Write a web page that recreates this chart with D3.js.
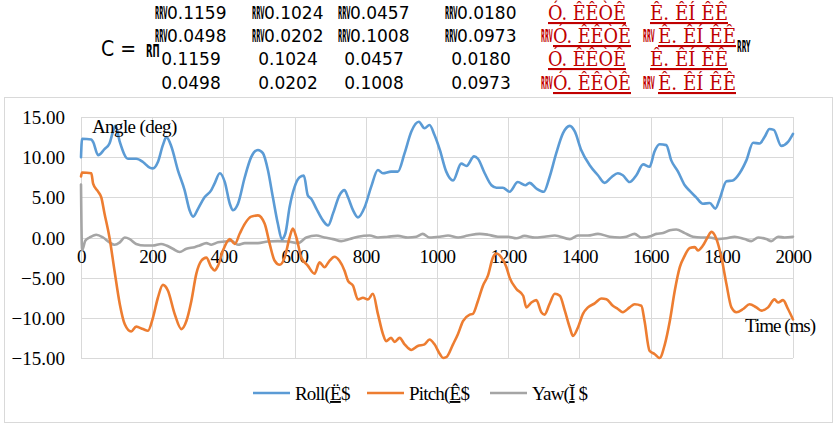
<!DOCTYPE html>
<html><head><meta charset="utf-8">
<script src="https://cdn.jsdelivr.net/npm/d3@7"></script>
<style>body{margin:0;background:#fff}svg{display:block}</style>
</head><body>
<svg id="c" width="840" height="430"></svg>
<script>
// ---- data ----
const xTicks = [0,200,400,600,800,1000,1200,1400,1600,1800,2000];
const yTicks = [15,10,5,0,-5,-10,-15];
const seriesNames = ["Roll", "Pitch", "Yaw"];
const legendTails = [["Ë","$"],["Ê","$"],["Ĭ"," $"]];

const rollTime = [0,3,29,34,48,66,80,90,97,109,132,155,174,193,202,216,230,240,254,272,291,305,315,329,347,366,375,390,404,418,427,441,460,478,497,511,525,539,553,564,574,586,600,614,626,637,647,661,680,694,708,726,740,750,764,778,797,815,834,848,871,890,909,928,949,965,979,993,1008,1026,1045,1068,1083,1104,1115,1134,1153,1167,1185,1204,1227,1248,1260,1279,1300,1316,1335,1354,1373,1387,1405,1429,1452,1471,1490,1508,1522,1541,1560,1579,1597,1611,1625,1644,1658,1677,1696,1710,1728,1747,1766,1782,1794,1813,1831,1850,1869,1888,1906,1920,1934,1946,1967,1986,2000];
const rollValues = [10.0,12.3,12.2,11.9,10.25,11.0,11.7,13.2,13.9,11.9,9.8,9.8,9.4,8.7,8.6,9.4,11.5,12.5,11.3,8.4,5.9,3.4,2.6,3.6,5.0,5.9,6.7,8.0,6.9,4.2,3.4,4.2,7.5,10.0,10.9,10.5,8.4,5.0,1.7,-0.2,0.5,3.8,6.3,7.5,7.7,5.25,4.8,3.6,2.1,1.5,3.0,5.25,5.9,5.0,3.4,2.5,3.8,6.3,8.4,8.0,8.2,8.2,10.5,13.2,14.4,13.6,14.0,12.75,10.9,8.2,7.1,9.2,8.9,10.1,9.8,8.0,6.5,6.2,6.2,5.7,6.9,6.5,6.8,6.1,5.7,7.5,10.5,13.0,13.9,13.2,10.9,9.0,7.75,6.8,7.5,8.0,7.75,6.9,7.75,9.1,8.8,10.7,11.6,11.5,9.6,8.2,6.5,5.8,5.0,4.2,4.3,3.6,4.8,7.0,7.1,8.0,9.6,11.8,11.7,12.5,13.5,13.4,11.4,11.9,12.9];

const pitchTime = [0,3,29,34,48,57,66,80,94,109,123,141,155,174,188,202,216,230,244,263,282,296,310,324,338,352,366,375,385,399,418,432,446,460,478,497,516,530,544,558,572,586,595,605,619,637,656,670,684,698,712,726,740,750,764,778,792,806,820,834,848,857,871,881,895,909,928,946,965,979,993,1008,1017,1026,1045,1059,1073,1092,1101,1115,1129,1143,1157,1167,1181,1195,1204,1223,1242,1251,1265,1279,1293,1302,1316,1331,1345,1359,1373,1382,1396,1410,1424,1443,1462,1476,1494,1508,1522,1541,1555,1574,1583,1597,1611,1625,1640,1654,1668,1682,1696,1710,1724,1733,1747,1761,1771,1785,1799,1813,1827,1841,1860,1878,1897,1911,1930,1948,1958,1972,1986,2000];
const pitchValues = [7.6,8.1,8.0,6.7,5.7,5.0,3.0,0.0,-4.1,-8.3,-10.8,-11.7,-11.1,-11.4,-11.6,-10.0,-7.5,-5.9,-6.6,-9.5,-11.4,-10.4,-7.9,-4.5,-2.9,-2.5,-3.7,-4.1,-3.5,-1.6,-0.2,-0.8,0.5,1.7,2.6,2.75,1.7,-0.8,-2.9,-3.4,-2.5,0.0,1.1,0.0,-2.5,-3.5,-4.5,-3.1,-3.7,-2.9,-2.4,-2.9,-4.1,-5.4,-6.0,-7.7,-7.5,-7.7,-7.0,-9.5,-12.0,-12.9,-12.5,-13.0,-12.5,-13.3,-14.0,-13.5,-13.3,-12.7,-13.3,-14.5,-15.0,-14.9,-13.3,-12.0,-10.4,-9.6,-9.5,-7.9,-6.0,-4.75,-2.5,-2.0,-2.5,-3.7,-5.0,-6.4,-7.25,-8.7,-8.1,-7.8,-9.3,-9.6,-8.3,-7.0,-7.25,-9.1,-11.2,-12.25,-11.2,-9.5,-8.7,-8.2,-7.6,-7.7,-8.5,-8.9,-9.3,-8.7,-8.3,-8.5,-10.4,-14.1,-14.5,-15.0,-13.3,-10.4,-6.6,-3.7,-2.25,-1.3,-1.2,-1.6,-1.0,0.1,0.7,-0.2,-2.5,-5.8,-8.7,-9.3,-8.9,-8.3,-8.7,-9.1,-8.7,-7.7,-8.1,-7.8,-8.9,-10.2];

const yawTime = [0,3,12,24,43,62,80,94,109,123,137,155,179,202,225,240,258,277,296,319,333,352,366,385,404,422,441,460,478,497,525,553,581,609,633,661,684,708,731,755,778,811,834,862,890,918,942,960,979,1008,1031,1059,1087,1120,1143,1171,1199,1223,1246,1274,1302,1331,1373,1396,1424,1452,1485,1514,1532,1555,1574,1602,1616,1635,1654,1672,1696,1719,1742,1766,1789,1813,1836,1864,1883,1902,1925,1939,1958,1976,2000];
const yawValues = [6.6,-1.6,-0.4,0.0,0.35,0.0,-0.6,-0.9,-0.6,0.0,-0.2,-0.8,-1.0,-1.0,-0.8,-1.0,-1.4,-1.8,-1.4,-1.2,-1.0,-0.7,-0.9,-0.6,-0.5,-0.4,-0.9,-0.7,-0.7,-0.7,-0.5,-0.45,-0.5,-0.7,0.0,0.25,0.0,-0.2,-0.45,-0.2,0.1,0.25,0.0,0.1,0.2,0.0,0.1,0.45,0.0,0.1,0.25,0.0,0.25,0.45,0.35,0.1,0.1,-0.1,0.2,0.0,0.1,0.25,-0.2,0.25,0.25,0.45,0.1,0.0,0.1,0.45,0.0,0.2,0.45,0.55,0.9,1.0,0.55,0.1,0.0,0.0,-0.2,-0.1,0.1,-0.2,-0.45,0.0,-0.2,-0.45,0.1,0.0,0.1];

const matrixBlack = [
  ["RRV0.1159","RRV0.1024","RRV0.0457","RRV0.0180"],
  ["RRV0.0498","RRV0.0202","RRV0.1008","RRV0.0973"],
  ["0.1159","0.1024","0.0457","0.0180"],
  ["0.0498","0.0202","0.1008","0.0973"]
];
const matrixRed = [
  ["","Ó. ÊÊÒÊ","","Ê. ÊÍ ÊÊ"],
  ["RRV","Ó. ÊÊÒÊ","RRV","Ê. ÊÍ ÊÊ"],
  ["","Ó. ÊÊÒÊ","","Ê. ÊÍ ÊÊ"],
  ["RRV","Ó. ÊÊÒÊ","RRV","Ê. ÊÍ ÊÊ"]
];

// ---- drawing ----
const svg = d3.select("#c");
const colors = ["#5b9bd5","#ed7d31","#a5a5a5"];
const serif = "'Liberation Serif', 'Times New Roman', serif";
const sans = "'DejaVu Sans',sans-serif";

// squeezed glyph helper (text scaled horizontally)
function squeezed(g, txt, x0, y0, sx, size, fill) {
  g.append("text").attr("transform",`translate(${x0},${y0}) scale(${sx},1)`)
    .style("font-family",sans).attr("font-size",size).attr("font-weight","bold").attr("fill",fill).text(txt);
}

// matrix header
const mat = svg.append("g");
mat.append("text").attr("x",101).attr("y",56).style("font-family","'DejaVu Sans Condensed','DejaVu Sans',sans-serif")
  .attr("font-size",21).attr("fill","#000").text("C =");
squeezed(mat, "RΠ", 146, 57, 0.5, 17, "#000");
const colX = [191,288,374,481];
const rowY = [19,42,65,89];
matrixBlack.forEach((row,ri)=>{
  row.forEach((s,ci)=>{
    if (s.startsWith("RRV")) {
      squeezed(mat, "RRV", colX[ci]-36, rowY[ri], 0.32, 17, "#000");
      mat.append("text").attr("x",colX[ci]-24).attr("y",rowY[ri])
        .style("font-family",sans).attr("font-size",17).attr("fill","#000").text(s.slice(3));
    } else {
      mat.append("text").attr("x",colX[ci]).attr("y",rowY[ri]).attr("text-anchor","middle")
        .style("font-family",sans).attr("font-size",17).attr("fill","#000").text(s);
    }
  });
});
// red columns: [prefix x, body x without prefix, body x with prefix]
const redPos = [[541,548,553],[643,650,658]];
matrixRed.forEach((row,ri)=>{
  [0,1].forEach(k=>{
    const pre = row[k*2], body = row[k*2+1];
    if (pre) squeezed(mat, pre, redPos[k][0], rowY[ri], 0.3, 17, "#c00000");
    const bx = pre ? redPos[k][2] : redPos[k][1];
    mat.append("text").attr("x",bx).attr("y",rowY[ri]+1).style("font-family","'DejaVu Serif Condensed','DejaVu Serif',serif")
      .attr("font-size",21).attr("fill","#c00000").attr("text-decoration","underline")
      .attr("textLength",78).attr("lengthAdjust","spacingAndGlyphs").text(body);
  });
});
squeezed(mat, "RRY", 737, 52, 0.38, 16, "#000");

// chart frame
svg.append("rect").attr("x",4.5).attr("y",97.5).attr("width",828).attr("height",325)
  .attr("fill","#fff").attr("stroke","#d9d9d9").attr("stroke-width",1);

const x = d3.scaleLinear().domain([0,2000]).range([81,793]);
const y = d3.scaleLinear().domain([-15,15]).range([358,117]);

// grid
const grid = svg.append("g").attr("stroke","#d9d9d9").attr("stroke-width",1);
yTicks.forEach(v=>grid.append("line").attr("x1",x(0)).attr("x2",x(2000)).attr("y1",Math.round(y(v))+0.5).attr("y2",Math.round(y(v))+0.5));
xTicks.forEach(v=>grid.append("line").attr("x1",Math.round(x(v))+0.5).attr("x2",Math.round(x(v))+0.5).attr("y1",y(15)).attr("y2",y(-15)));

// y axis labels
const yAxis = d3.axisLeft(y).tickValues(yTicks).tickFormat(d3.format(".2f")).tickSize(0).tickPadding(16);
const ya = svg.append("g").attr("transform",`translate(${x(0)},0)`).call(yAxis);
ya.attr("font-family",null).attr("font-size",null);
ya.select(".domain").remove();
ya.selectAll("text").style("font-family",serif).style("font-size","19px").attr("fill","#000").attr("dy","0.35em");

// x axis labels at y=0
const xAxis = d3.axisBottom(x).tickValues(xTicks).tickFormat(d3.format("d")).tickSize(0).tickPadding(12);
const xa = svg.append("g").attr("transform",`translate(0,${y(0)})`).call(xAxis);
xa.attr("font-family",null).attr("font-size",null);
xa.select(".domain").remove();
xa.selectAll("text").style("font-family",serif).style("font-size","19px").attr("fill","#000").attr("letter-spacing","-0.5");

// lines
const series = [
  {t:rollTime, v:rollValues},
  {t:pitchTime, v:pitchValues},
  {t:yawTime, v:yawValues}
];
const line = d3.line().x(d=>x(d[0])).y(d=>y(d[1])).curve(d3.curveMonotoneX);
[2,0,1].forEach(i=>{
  const s = series[i];
  const pts = s.t.map((t,j)=>[t,s.v[j]]);
  svg.append("path").attr("d",line(pts)).attr("fill","none").attr("stroke",colors[i])
    .attr("stroke-width",2.6).attr("stroke-linejoin","round").attr("stroke-linecap","round");
});

// axis titles
svg.append("text").attr("x",92).attr("y",133).style("font-family",serif).attr("font-size",19).attr("letter-spacing","-0.6").text("Angle (deg)");
svg.append("text").attr("x",745).attr("y",332).style("font-family",serif).attr("font-size",19).attr("letter-spacing","-1").text("Time (ms)");

// legend
const legX = [253,367,490];
seriesNames.forEach((n,i)=>{
  const g = svg.append("g");
  g.append("line").attr("x1",legX[i]).attr("x2",legX[i]+37).attr("y1",393).attr("y2",393)
    .attr("stroke",colors[i]).attr("stroke-width",2.6);
  const t = g.append("text").attr("x",legX[i]+42).attr("y",400).style("font-family",serif).attr("font-size",19).attr("letter-spacing","-0.8");
  t.append("tspan").text(n+"(");
  t.append("tspan").attr("text-decoration","underline").text(legendTails[i][0]);
  t.append("tspan").text(legendTails[i][1]);
});
</script>
</body></html>
